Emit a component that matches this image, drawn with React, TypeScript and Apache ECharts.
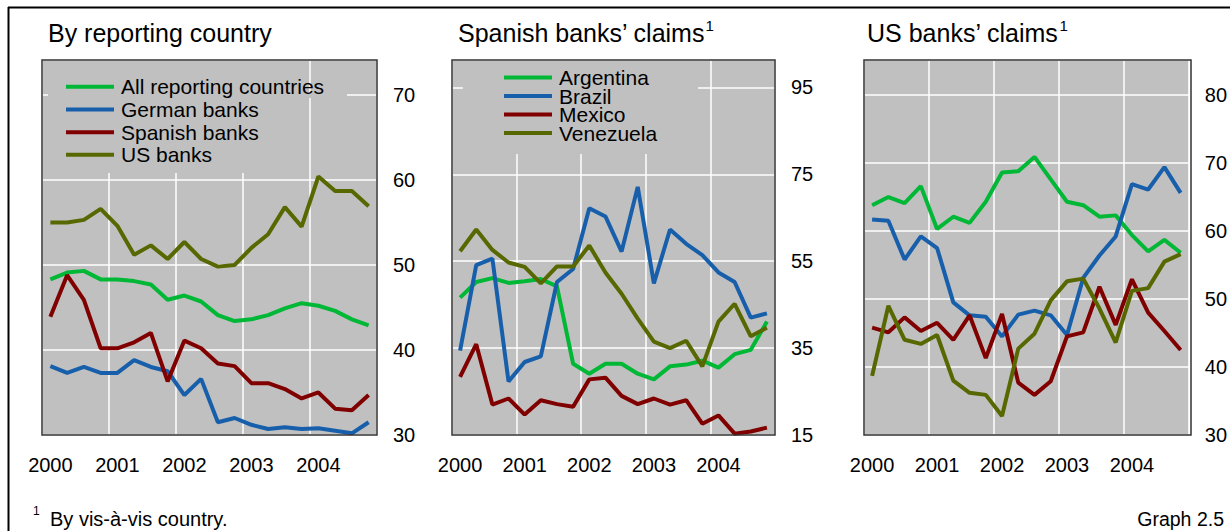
import React, { useEffect, useRef } from "react";
import * as echarts from "echarts";

const FONT = '"Liberation Sans", Arial, Helvetica, sans-serif';

const years = ["2000", "2001", "2002", "2003", "2004"];
const quarters = years.flatMap((y) => ["Q1", "Q2", "Q3", "Q4"].map((q) => y + q));

// Panel 1: By reporting country
const allReporting = [48.3, 49.1, 49.3, 48.3, 48.3, 48.1, 47.7, 45.9, 46.4, 45.7, 44.1, 43.4, 43.6, 44.1, 44.9, 45.5, 45.2, 44.6, 43.6, 42.9];
const germanBanks = [38.1, 37.3, 38.0, 37.3, 37.3, 38.8, 38.0, 37.5, 34.7, 36.6, 31.5, 32.0, 31.2, 30.7, 30.9, 30.7, 30.8, 30.5, 30.2, 31.5];
const spanishBanks = [43.9, 48.8, 45.9, 40.2, 40.2, 40.9, 42.0, 36.3, 41.1, 40.2, 38.4, 38.1, 36.1, 36.1, 35.4, 34.3, 35.0, 33.1, 32.9, 34.7];
const usBanks = [55.0, 55.0, 55.3, 56.6, 54.6, 51.2, 52.3, 50.7, 52.7, 50.7, 49.8, 50.0, 52.0, 53.6, 56.8, 54.5, 60.4, 58.7, 58.7, 56.9];

// Panel 2: Spanish banks' claims
const esArgentina = [46.6, 50.2, 51.1, 50.0, 50.4, 50.9, 49.2, 31.4, 29.1, 31.4, 31.4, 29.1, 27.8, 30.8, 31.2, 32.1, 30.5, 33.6, 34.6, 41.1];
const esBrazil = [34.4, 54.1, 55.6, 27.3, 31.8, 33.1, 50.2, 53.2, 67.2, 65.3, 57.2, 72.1, 49.9, 62.3, 59.0, 56.4, 52.4, 50.2, 42.0, 43.0];
const esMexico = [28.4, 35.9, 22.0, 23.4, 19.7, 23.0, 22.1, 21.5, 27.8, 28.2, 24.0, 22.1, 23.4, 22.0, 23.0, 17.6, 19.5, 15.3, 15.8, 16.7];
const esVenezuela = [57.3, 62.3, 57.6, 54.7, 53.7, 49.9, 53.8, 53.8, 58.6, 52.4, 47.5, 41.8, 36.5, 35.0, 36.7, 30.8, 41.1, 45.2, 37.7, 39.7];

// Panel 3: US banks' claims
const usArgentina = [63.8, 65.0, 64.1, 66.6, 60.3, 62.1, 61.2, 64.3, 68.6, 68.8, 70.9, 67.6, 64.3, 63.8, 62.1, 62.3, 59.4, 57.0, 58.7, 56.8];
const usBrazil = [61.7, 61.5, 55.8, 59.2, 57.5, 49.5, 47.6, 47.4, 44.5, 47.7, 48.3, 47.6, 44.7, 53.1, 56.4, 59.2, 66.9, 66.1, 69.4, 65.6];
const usMexico = [45.8, 45.1, 47.3, 45.3, 46.5, 44.0, 47.6, 41.3, 47.8, 37.7, 35.9, 37.9, 44.5, 45.1, 51.8, 46.2, 52.9, 48.0, 45.3, 42.5];
const usVenezuela = [38.7, 49.0, 44.0, 43.4, 44.7, 38.0, 36.2, 35.9, 32.8, 42.7, 44.9, 49.8, 52.6, 53.0, 48.6, 43.6, 51.2, 51.6, 55.5, 56.6];

const panel1Names = ["All reporting countries", "German banks", "Spanish banks", "US banks"];
const panel2Names = ["Argentina", "Brazil", "Mexico", "Venezuela"];
const panel3Names = ["Argentina (US)", "Brazil (US)", "Mexico (US)", "Venezuela (US)"];

const COLORS = ["#00b836", "#175fab", "#800000", "#586800"];

const grids = [
  { left: 42, top: 60, width: 335, height: 375 },
  { left: 452, top: 60, width: 323, height: 375 },
  { left: 864, top: 60, width: 327, height: 375 },
];
const yRanges = [
  { min: 30, max: 74.1, interval: 10 },
  { min: 15, max: 101.3, interval: 20 },
  { min: 30, max: 85.15, interval: 10 },
];

export default function App() {
  const ref = useRef<HTMLDivElement>(null);

  useEffect(() => {
    if (!ref.current) return;
    const chart = echarts.init(ref.current, null, { renderer: "svg" });

    const xAxes = grids.map((_, i) => ({
      type: "category",
      gridIndex: i,
      data: quarters,
      boundaryGap: true,
      axisLine: { show: false },
      axisTick: { show: false, interval: 3 },
      axisLabel: {
        interval: 3,
        margin: 20,
        fontSize: 20,
        fontFamily: FONT,
        color: "#000",
        formatter: (v: string) => v.slice(0, 4),
      },
      splitLine: { show: true, interval: 3, lineStyle: { color: "#ffffff", width: 1.5 } },
    }));

    const yAxes = yRanges.map((r, i) => ({
      type: "value",
      gridIndex: i,
      position: "right",
      min: r.min,
      max: r.max,
      interval: r.interval,
      axisLine: { show: false },
      axisTick: { show: false },
      axisLabel: {
        showMaxLabel: false,
        margin: 16,
        fontSize: 20,
        fontFamily: FONT,
        color: "#000",
      },
      splitLine: { show: true, lineStyle: { color: "#ffffff", width: 1.5 } },
    }));

    const mk = (name: string, data: number[], idx: number, color: string) => ({
      type: "line",
      name,
      data,
      xAxisIndex: idx,
      yAxisIndex: idx,
      symbol: "none",
      color,
      lineStyle: { color, width: 4 },
      z: 3,
    });

    const p1 = [allReporting, germanBanks, spanishBanks, usBanks];
    const p2 = [esArgentina, esBrazil, esMexico, esVenezuela];
    const p3 = [usArgentina, usBrazil, usMexico, usVenezuela];

    const series = [
      ...p1.map((d, k) => mk(panel1Names[k], d, 0, COLORS[k])),
      ...p2.map((d, k) => mk(panel2Names[k], d, 1, COLORS[k])),
      ...p3.map((d, k) => mk(panel3Names[k], d, 2, COLORS[k])),
    ];

    const legendCommon = {
      orient: "vertical",
      icon: "rect",
      itemWidth: 48,
      itemHeight: 4,
      padding: 0,
      selectedMode: false,
      backgroundColor: "transparent",
    };

    const titleText = (text: string, x: number) => ({
      type: "text",
      x,
      y: 32.5,
      z: 20,
      style: { text, fontSize: 25, fontFamily: FONT, fill: "#000", verticalAlign: "middle", align: "left" },
    });
    const sup = (x: number) => ({
      type: "text",
      x,
      y: 25,
      z: 20,
      style: { text: "1", fontSize: 15, fontFamily: FONT, fill: "#000", verticalAlign: "middle", align: "left" },
    });

    const borders = grids.map((g) => ({
      type: "rect",
      z: 10,
      shape: { x: g.left, y: g.top, width: g.width, height: g.height },
      style: { fill: "none", stroke: "#333333", lineWidth: 1.5 },
    }));

    const option = {
      animation: false,
      backgroundColor: "#ffffff",
      grid: grids.map((g) => ({ ...g, show: true, backgroundColor: "#c0c0c0", borderWidth: 0, containLabel: false })),
      xAxis: xAxes,
      yAxis: yAxes,
      series,
      legend: [
        {
          ...legendCommon,
          left: 66,
          top: 75.4,
          itemGap: 0,
          data: panel1Names,
          textStyle: { fontSize: 21, fontFamily: FONT, color: "#000", lineHeight: 22.7, padding: [0, 0, 0, 2] },
        },
        {
          ...legendCommon,
          left: 504,
          top: 67,
          itemGap: -2.5,
          data: panel2Names,
          textStyle: { fontSize: 21, fontFamily: FONT, color: "#000", lineHeight: 21, padding: [0, 0, 0, 2] },
        },
      ],
      graphic: [
        { type: "line", z: 20, shape: { x1: 8, y1: 7.5, x2: 1230, y2: 7.5 }, style: { stroke: "#000", lineWidth: 2 } },
        { type: "line", z: 20, shape: { x1: 8.5, y1: 7, x2: 8.5, y2: 531 }, style: { stroke: "#000", lineWidth: 2 } },
        // legend background patches covering gridlines
        { type: "rect", z: 1, shape: { x: 48, y: 61, width: 252, height: 112 }, style: { fill: "#c0c0c0" } },
        { type: "rect", z: 1, shape: { x: 300, y: 92, width: 47, height: 6 }, style: { fill: "#c0c0c0" } },
        { type: "rect", z: 1, shape: { x: 463, y: 61, width: 235, height: 93 }, style: { fill: "#c0c0c0" } },
        ...borders,
        titleText("By reporting country", 48),
        titleText("Spanish banks\u2019 claims", 458),
        sup(705.5),
        titleText("US banks\u2019 claims", 867),
        sup(1059.5),
        {
          type: "text",
          x: 33,
          y: 511,
          z: 20,
          style: { text: "1", fontSize: 12, fontFamily: FONT, fill: "#000", verticalAlign: "middle", align: "left" },
        },
        {
          type: "text",
          x: 50,
          y: 518.5,
          z: 20,
          style: { text: "By vis-\u00e0-vis country.", fontSize: 20, fontFamily: FONT, fill: "#000", verticalAlign: "middle", align: "left" },
        },
        {
          type: "text",
          x: 1224,
          y: 518.5,
          z: 20,
          style: { text: "Graph 2.5", fontSize: 19.5, fontFamily: FONT, fill: "#000", verticalAlign: "middle", align: "right" },
        },
      ],
    };

    chart.setOption(option as any);
    return () => chart.dispose();
  }, []);

  return (
    <div
      ref={ref}
      style={{ position: "fixed", left: 0, top: 0, width: 1230, height: 531, background: "#fff" }}
    />
  );
}
